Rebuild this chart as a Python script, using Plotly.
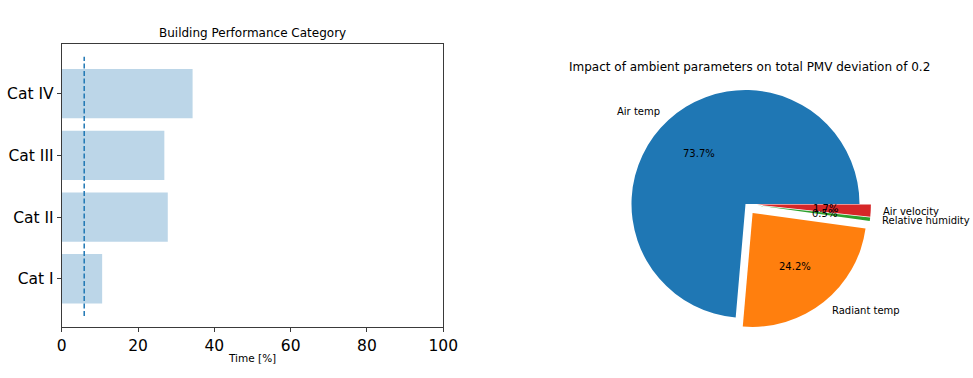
import math
import plotly.graph_objects as go

# ---------------- data ----------------
categories = ["Cat I", "Cat II", "Cat III", "Cat IV"]
time_pct = [10.6, 27.8, 26.9, 34.3]
threshold = 5.9
x_ticks = [0, 20, 40, 60, 80, 100]

pie_labels = ["Air temp", "Radiant temp", "Relative humidity", "Air velocity"]
pie_pct = [73.7, 24.2, 0.5, 1.7]
pie_explode = [0.0, 0.1, 0.1, 0.1]
pie_colors = ["#1f77b4", "#ff7f0e", "#2ca02c", "#d62728"]

bar_title = "Building Performance Category"
pie_title = "Impact of ambient parameters on total PMV deviation of 0.2"
x_title = "Time [%]"

# ---------------- layout constants (pixels) ----------------
W, H = 973, 378
AX_L, AX_R, AX_T, AX_B = 61.7, 443.3, 44.3, 327.3
Y_RANGE = [-0.786, 3.80]
CX, CY, R = 745.5, 204.0, 114.0
FONT = "DejaVu Sans"
AXC = "#3a3a3a"

def px_x(x):
    return x / W

def px_y(y):
    return 1 - y / H

fig = go.Figure()

# ---------------- bar chart ----------------
fig.add_trace(go.Bar(
    y=categories, x=time_pct, orientation="h", width=0.8,
    marker=dict(color="#bcd6e8", line=dict(width=0)),
    xaxis="x", yaxis="y", showlegend=False,
))
fig.add_shape(type="line", xref="x", yref="y domain",
              x0=threshold, x1=threshold, y0=0.04, y1=0.956,
              line=dict(color="#1f77b4", width=1.5, dash="5px,2.5px"))

# ---------------- pie chart ----------------
maxpull = max(pie_explode)
box = R * (1 + maxpull)
fig.add_trace(go.Pie(
    labels=pie_labels[::-1], values=pie_pct[::-1], pull=pie_explode[::-1],
    marker=dict(colors=pie_colors[::-1], line=dict(width=0)),
    sort=False, direction="clockwise", rotation=90,
    textinfo="none", showlegend=False,
    domain=dict(x=[px_x(CX - box), px_x(CX + box)],
                y=[px_y(CY + box), px_y(CY - box)]),
))

annotations = []
total = sum(pie_pct)
cum = 0.0
for lab, v, ex in zip(pie_labels, pie_pct, pie_explode):
    t1 = 360 * cum / total
    cum += v
    t2 = 360 * cum / total
    tm = math.radians((t1 + t2) / 2)
    c, s = math.cos(tm), math.sin(tm)
    ox, oy = CX + ex * R * c, CY - ex * R * s
    lx, ly = ox + 1.1 * R * c, oy - 1.1 * R * s
    annotations.append(dict(
        x=px_x(lx), y=px_y(ly), xref="paper", yref="paper", showarrow=False,
        text=lab, xanchor="left" if c > 0 else "right", yanchor="middle",
        borderpad=0, font=dict(family=FONT, size=10, color="#000")))
    tx, ty = ox + 0.6 * R * c, oy - 0.6 * R * s
    annotations.append(dict(
        x=px_x(tx), y=px_y(ty), xref="paper", yref="paper", showarrow=False,
        text="%.1f%%" % v, xanchor="center", yanchor="middle",
        borderpad=0, font=dict(family=FONT, size=10, color="#000")))

# titles
annotations.append(dict(x=px_x((AX_L + AX_R) / 2), y=px_y(33.3), xref="paper", yref="paper",
                        showarrow=False, text=bar_title, xanchor="center", yanchor="middle",
                        font=dict(family=FONT, size=12, color="#000")))
annotations.append(dict(x=px_x((AX_L + AX_R) / 2), y=px_y(358), xref="paper", yref="paper",
                        showarrow=False, text=x_title, xanchor="center", yanchor="middle",
                        font=dict(family=FONT, size=10.5, color="#000")))
annotations.append(dict(x=px_x(749.5), y=px_y(67), xref="paper", yref="paper",
                        showarrow=False, text=pie_title, xanchor="center", yanchor="middle",
                        font=dict(family=FONT, size=12, color="#000")))

fig.update_layout(
    width=W, height=H, autosize=False, margin=dict(l=0, r=0, t=0, b=0, pad=0),
    paper_bgcolor="white", plot_bgcolor="white",
    font=dict(family=FONT, color="#000"),
    showlegend=False,
    xaxis=dict(domain=[px_x(AX_L), px_x(AX_R)], range=[0, 100],
               tickvals=x_ticks, ticktext=[str(t) for t in x_ticks],
               ticks="outside", ticklen=4, tickwidth=1, tickcolor=AXC,
               showline=True, linecolor=AXC, linewidth=1, mirror=True,
               showgrid=False, zeroline=False, automargin=False,
               tickfont=dict(family=FONT, size=15.5, color="#000")),
    yaxis=dict(domain=[px_y(AX_B), px_y(AX_T)], type="category",
               categoryorder="array", categoryarray=categories, range=Y_RANGE,
               ticks="outside", ticklen=4, tickwidth=1, tickcolor=AXC,
               showline=True, linecolor=AXC, linewidth=1, mirror=True,
               showgrid=False, zeroline=False, automargin=False,
               tickfont=dict(family=FONT, size=15.5, color="#000")),
    annotations=annotations,
)

fig.write_html(
    "out.html",
    config={"responsive": False, "displayModeBar": False},
    post_script="document.body.style.margin='0';document.body.style.overflow='hidden';",
)
